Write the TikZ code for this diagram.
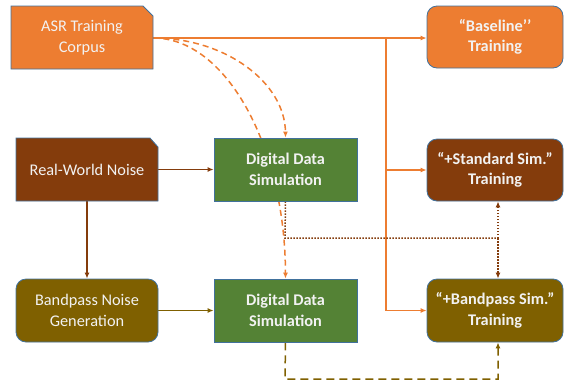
\documentclass[tikz,border=0pt]{standalone}
\usepackage{fontspec}
\setmainfont{Carlito}
\usetikzlibrary{arrows.meta,backgrounds,calc}
\definecolor{cOrange}{HTML}{ED7D31}
\definecolor{cBrown}{HTML}{843C0C}
\definecolor{cOlive}{HTML}{7F6000}
\definecolor{cGreen}{HTML}{548235}
\definecolor{cEdge}{HTML}{41719C}
\definecolor{cText}{HTML}{F2F2F2}
\tikzset{
  box/.style={draw=cEdge, line width=0.8pt, text=cText, align=center,
    font=\fontsize{16.3}{20.5}\selectfont, inner sep=0pt},
  plain/.style={box, draw=none, fill=none},
  rbox/.style={box, rounded corners=10pt},
  sqbox/.style={box, fill=cGreen, font=\fontsize{16.3}{20.5}\selectfont\bfseries},
  bbox/.style={rbox, font=\fontsize{16.3}{20.5}\selectfont\bfseries},
  arr/.style={-{Latex[length=6pt,width=5pt]}, line width=1.5pt},
  oline/.style={draw=cOrange, line width=1.8pt},
}
\begin{document}
\begin{tikzpicture}[x=1pt,y=-1pt]
\useasboundingbox (0,0) rectangle (564,381);
% snipped-corner boxes
\fill[cOrange] (11,6) -- (143,6) -- (153,16) -- (153,69) -- (11,69) -- cycle;
\draw[cEdge, line width=0.8pt] (11,6) -- (143,6) -- (153,16) -- (153,69) -- (11,69) -- cycle;
\node[plain, minimum width=142pt, minimum height=63pt] (asr) at (82,37.5) {ASR Training\\Corpus};
\fill[cBrown] (16,138) -- (150,138) -- (158,147) -- (158,201) -- (16,201) -- cycle;
\draw[cEdge, line width=0.8pt] (16,138) -- (150,138) -- (158,147) -- (158,201) -- (16,201) -- cycle;
\node[plain, minimum width=142pt, minimum height=63pt] (rwn) at (87,169.5) {Real-World Noise};
% other boxes
\node[sqbox, minimum width=143pt, minimum height=63pt] (dds1) at (285.5,169.5) {Digital Data\\Simulation};
\node[sqbox, minimum width=143pt, minimum height=63pt] (dds2) at (285.5,310.5) {Digital Data\\Simulation};
\node[rbox, fill=cOlive, minimum width=142pt, minimum height=63pt] (bng) at (87,310.5) {Bandpass Noise\\Generation};
\node[bbox, fill=cOrange, minimum width=136pt, minimum height=62pt] (base) at (495,37) {“Baseline’’\\Training};
\node[bbox, fill=cBrown, minimum width=136pt, minimum height=62pt] (std) at (495,170) {“+Standard Sim.”\\Training};
\node[bbox, fill=cOlive, minimum width=136pt, minimum height=63pt] (bp) at (495,310.5) {“+Bandpass Sim.”\\Training};
\coordinate (vx) at (386,38);
\coordinate (c1) at (285,238);
\coordinate (c2) at (498,238);
\coordinate (d1) at (285,379);
\coordinate (d2) at (498,379);
\begin{scope}[on background layer]
% orange solid
\draw[oline, arr] (asr.east |- 0,38) -- (base.west |- 0,38);
\draw[oline, arr] (vx) |- (std.west);
\draw[oline, arr] (vx) |- (bp.west);
% dashed curves
\draw[cOrange, line width=1.5pt, dash pattern=on 6pt off 4pt, -{Latex[length=6pt,width=5pt]}]
  (asr.east |- 0,38) .. controls (226,38) and (285,83) .. (dds1.north);
\draw[cOrange, line width=1.5pt, dash pattern=on 6pt off 4pt, -{Latex[length=6pt,width=5pt]}]
  (asr.east |- 0,38) .. controls (226,38) and (285,146) .. (dds2.north);
% brown
\draw[cBrown, arr] (rwn.east) -- (dds1.west);
\draw[cBrown, arr] (rwn.south) -- (bng.north);
% olive
\draw[cOlive, arr] (bng.east) -- (dds2.west);
% dotted brown
\draw[cBrown, line width=1.5pt, dash pattern=on 1.5pt off 1.5pt] (dds1.south) -- (c1) -- (c2);
\draw[cBrown, line width=1.5pt, dash pattern=on 1.5pt off 1.5pt, -{Latex[length=6pt,width=5pt]}] (c2) -- (c2 |- std.south);
\draw[cBrown, line width=1.5pt, dash pattern=on 1.5pt off 1.5pt, -{Latex[length=6pt,width=5pt]}] (c2) -- (c2 |- bp.north);
% dashed olive
\draw[cOlive, line width=1.5pt, dash pattern=on 8pt off 5pt, -{Latex[length=6pt,width=5pt]}]
  (dds2.south) -- (d1) -- (d2) -- (d2 |- bp.south);
\end{scope}
\end{tikzpicture}
\end{document}
